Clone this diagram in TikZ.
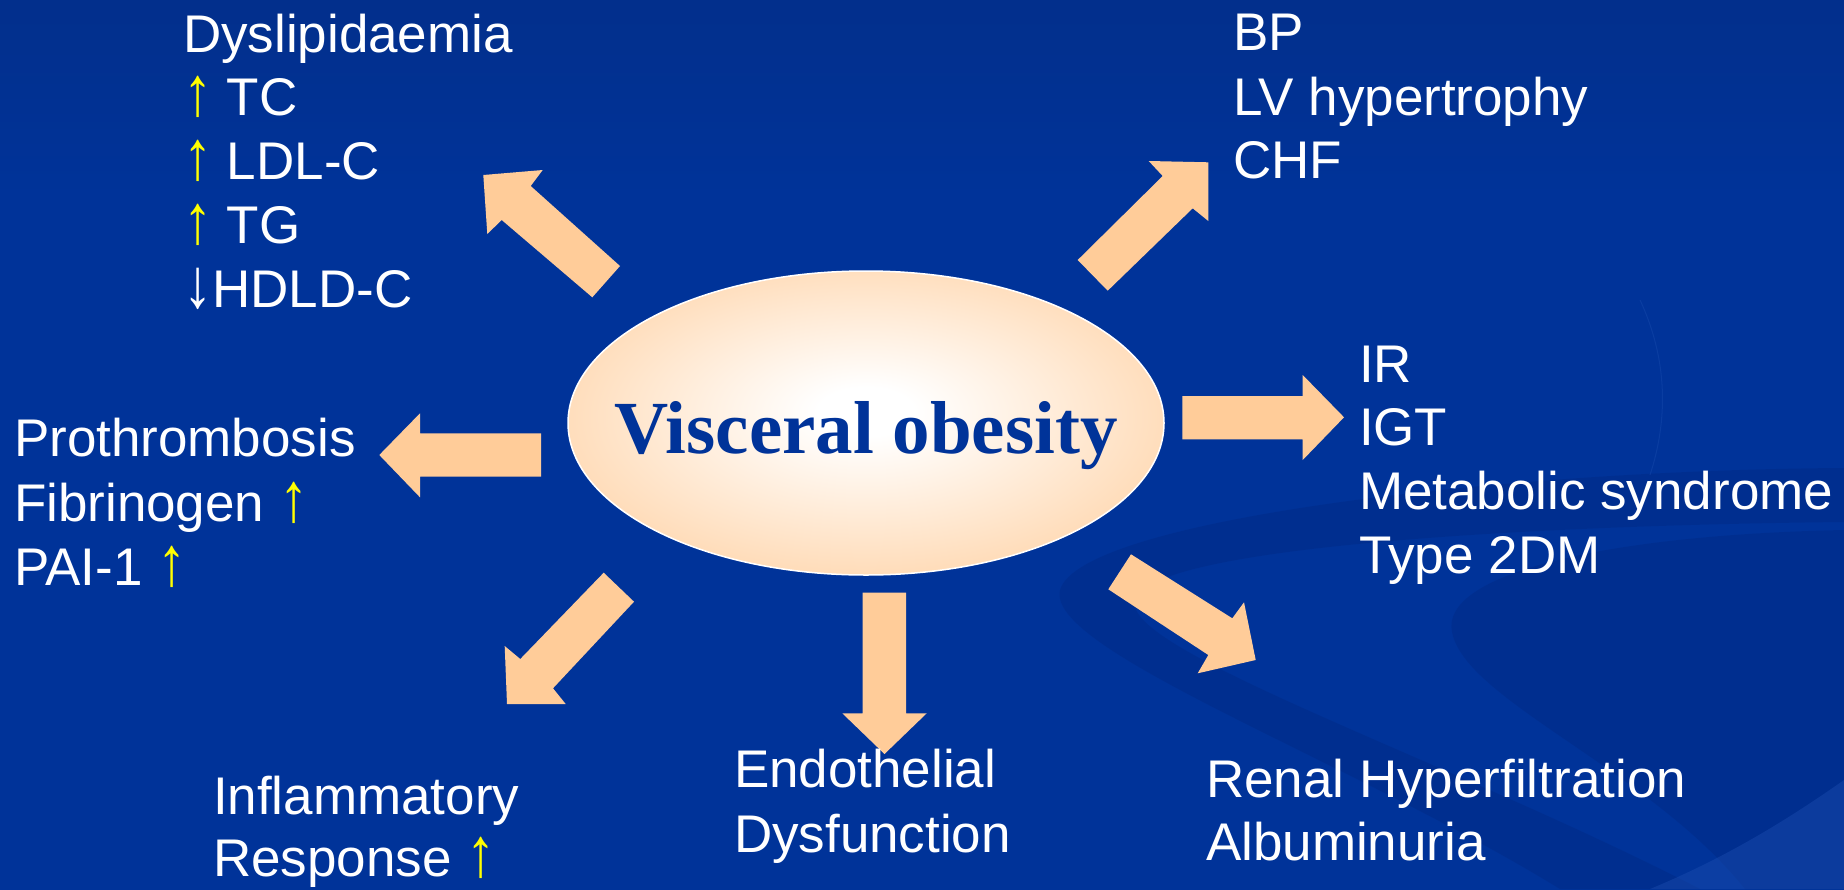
\documentclass[tikz,border=0pt]{standalone}
\usepackage{graphicx}
\usepackage{fontspec}
\setmainfont{Liberation Sans}
\newfontfamily\titlefont{Liberation Serif}
\usetikzlibrary{shapes.geometric}
\definecolor{bgT}{RGB}{8,38,110}
\definecolor{bgB}{RGB}{0,51,153}
\definecolor{peach}{RGB}{255,204,153}
\definecolor{titleblue}{RGB}{0,51,153}
\definecolor{swirldark}{RGB}{0,38,125}
\definecolor{swirllight}{RGB}{30,80,178}
\definecolor{upyellow}{RGB}{255,255,0}
\pgfdeclareverticalshading{bgshade}{100bp}{color(0bp)=(bgB); color(64bp)=(bgB); color(100bp)=(bgT)}
\pgfdeclareradialshading{ellshade}{\pgfpoint{0bp}{2bp}}{color(0bp)=(white); color(4bp)=(white); color(36bp)=(peach); color(50bp)=(peach)}
\newcommand{\upar}{{\color{upyellow}\scalebox{1.1}[1.32]{↑}}}
\newcommand{\downar}{\scalebox{1.1}[1.32]{↓}}
\tikzset{
  lbl/.style={anchor=base west, inner sep=0pt, outer sep=0pt, text=white,
    font=\fontsize{53}{64}\selectfont},
  blockarrow/.style={fill=peach, draw=none},
  titletext/.style={anchor=base, inner sep=0pt, text=titleblue,
    font=\titlefont\bfseries\fontsize{75}{80}\selectfont},
  swirlband/.style={fill=swirldark, opacity=0.32},
  swirlglow/.style={fill=swirllight, opacity=0.4},
  swirlline/.style={draw=swirllight, opacity=0.35, line width=1pt}
}
\begin{document}
\begin{tikzpicture}[x=1pt,y=-1pt]
\useasboundingbox (0,0) rectangle (1844,889);
% background
\shade[shading=bgshade] (0,0) rectangle (1844,889);
% faint swirls
\fill[swirlband] (1844,468) .. controls (1500,470) and (1080,520) .. (1060,590)
  .. controls (1045,650) and (1350,760) .. (1560,889) -- (1700,889)
  .. controls (1450,760) and (1120,650) .. (1135,600)
  .. controls (1150,545) and (1550,525) .. (1844,522) -- cycle;
\fill[swirlband] (1844,530) .. controls (1600,535) and (1440,575) .. (1452,632)
  .. controls (1465,700) and (1650,770) .. (1745,889) -- (1844,889) -- cycle;
\fill[swirlglow] (1844,780) .. controls (1780,825) and (1720,860) .. (1650,889) -- (1844,889) -- cycle;
\draw[swirlline] (1640,300) .. controls (1668,360) and (1668,420) .. (1650,475);
% central ellipse
\node[ellipse, minimum width=596pt, minimum height=304pt, draw=white, line width=1.5pt,
  shade, shading=ellshade, inner sep=0pt] (ell) at (866,423) {};
\node[titletext] (title) at (866,453) {Visceral obesity};
% block arrows
\fill[blockarrow] (483.3,175) -- (542.7,170) -- (530.7,186) -- (620,266) -- (592.3,297.3) -- (501.7,220) -- (487.3,234) -- cycle;
\fill[blockarrow] (1148.7,161) -- (1208.3,162.3) -- (1208.3,221) -- (1192.7,208.3) -- (1107.7,290.7) -- (1077.7,260) -- (1162.7,176) -- cycle;
\fill[blockarrow] (1182.3,396) -- (1302.7,396) -- (1302.7,375) -- (1344,417.3) -- (1302.7,460) -- (1302.7,439.3) -- (1182.3,439.3) -- cycle;
\fill[blockarrow] (379.3,455) -- (420,413.3) -- (420,433.3) -- (541,433.3) -- (541,476.7) -- (420,476.7) -- (420,497.3) -- cycle;
\fill[blockarrow] (603.7,572.7) -- (634,601.7) -- (553,688.3) -- (565.7,704) -- (507,704) -- (504.7,646) -- (520.3,659) -- cycle;
\fill[blockarrow] (862.7,592.7) -- (906,592.7) -- (906,713.3) -- (926.7,713.3) -- (884.5,754) -- (842.3,713.3) -- (862.7,713.3) -- cycle;
\fill[blockarrow] (1131,554.3) -- (1108.3,589.3) -- (1208.3,655) -- (1197.7,673.3) -- (1255.7,660) -- (1244,602.3) -- (1232.3,618.3) -- cycle;
% Dyslipidaemia
\node[lbl] (d1) at (183,52) {Dyslipidaemia};
\node[lbl] (d2) at (183,115) {\upar{} TC};
\node[lbl] (d3) at (183,179) {\upar{} LDL-C};
\node[lbl] (d4) at (183,243) {\upar{} TG};
\node[lbl] (d5) at (183,307) {\downar{}HDLD-C};
% BP
\node[lbl] (b1) at (1233,50) {BP};
\node[lbl] (b2) at (1233,115) {LV hypertrophy};
\node[lbl] (b3) at (1233,178) {CHF};
% IR
\node[lbl] (i1) at (1359,382) {IR};
\node[lbl] (i2) at (1359,445) {IGT};
\node[lbl] (i3) at (1359,509) {Metabolic syndrome};
\node[lbl] (i4) at (1359,573) {Type 2DM};
% Prothrombosis
\node[lbl] (p1) at (14,456) {Prothrombosis};
\node[lbl] (p2) at (14,521) {Fibrinogen \upar};
\node[lbl] (p3) at (14,585) {PAI-1 \upar};
% Inflammatory
\node[lbl] (f1) at (213,814) {Inflammatory};
\node[lbl] (f2) at (213,876) {Response \upar};
% Endothelial
\node[lbl] (e1) at (734,787) {Endothelial};
\node[lbl] (e2) at (734,852) {Dysfunction};
% Renal
\node[lbl] (r1) at (1206,797) {Renal Hyperfiltration};
\node[lbl] (r2) at (1206,860) {Albuminuria};
\end{tikzpicture}
\end{document}
